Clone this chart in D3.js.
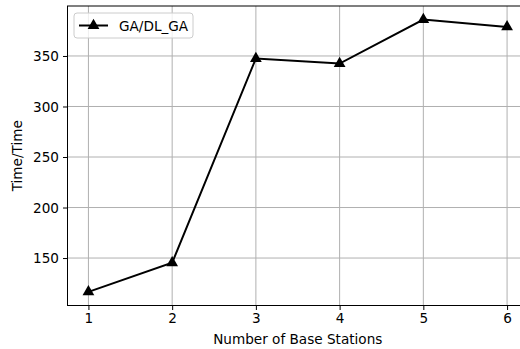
<!DOCTYPE html>
<html>
<head>
<meta charset="utf-8">
<script src="https://cdn.jsdelivr.net/npm/d3@7"></script>
<style>
  body { margin: 0; background: #fff; }
  svg { display: block; overflow: hidden; }
  text { font-family: "DejaVu Sans", sans-serif; fill: #000; }
</style>
</head>
<body>
<script>
// data
const stations = [1, 2, 3, 4, 5, 6];
const ratio = [116.5, 145.3, 347.5, 342.5, 386, 378.8];
const yTicks = [150, 200, 250, 300, 350];
const seriesName = 'GA/DL_GA';

const W = 520, H = 349;
const margin = {top: 6, left: 67.5, bottom: 43.5};
const plotRight = 528; // axes run past the cropped right edge
const fs = 13.6;

const svg = d3.select('body').append('svg')
    .attr('width', W)
    .attr('height', H);

// matplotlib style 5% padding
const xPad = (d3.max(stations) - d3.min(stations)) * 0.05;
const yPad = (d3.max(ratio) - d3.min(ratio)) * 0.05;

const x = d3.scaleLinear()
    .domain([d3.min(stations) - xPad, d3.max(stations) + xPad])
    .range([margin.left, plotRight]);

const y = d3.scaleLinear()
    .domain([d3.min(ratio) - yPad, d3.max(ratio) + yPad])
    .range([H - margin.bottom, margin.top]);

const bottom = H - margin.bottom;

// grid
svg.append('g')
    .selectAll('line.vg')
    .data(stations)
    .join('line')
    .attr('x1', d => x(d)).attr('x2', d => x(d))
    .attr('y1', margin.top).attr('y2', bottom)
    .attr('stroke', '#b0b0b0').attr('stroke-width', 1);

svg.append('g')
    .selectAll('line.hg')
    .data(yTicks)
    .join('line')
    .attr('x1', margin.left).attr('x2', plotRight)
    .attr('y1', d => y(d)).attr('y2', d => y(d))
    .attr('stroke', '#b0b0b0').attr('stroke-width', 1);

// axes
const xAxis = d3.axisBottom(x).tickValues(stations).tickFormat(d3.format('d'))
    .tickSize(4.5).tickPadding(3);
const gx = svg.append('g')
    .attr('transform', `translate(0,${bottom})`)
    .call(xAxis);

const yAxis = d3.axisLeft(y).tickValues(yTicks).tickSize(4.5).tickPadding(4);
const gy = svg.append('g')
    .attr('transform', `translate(${margin.left},0)`)
    .call(yAxis);

[gx, gy].forEach(g => {
    g.attr('font-size', fs).attr('font-family', '"DejaVu Sans", sans-serif');
    g.selectAll('.tick line').attr('stroke', '#000').attr('stroke-width', 1);
    g.select('.domain').remove();
});
gy.selectAll('text').attr('dy', '0.35em');

// spines
svg.append('rect')
    .attr('x', margin.left).attr('y', margin.top)
    .attr('width', plotRight - margin.left)
    .attr('height', bottom - margin.top)
    .attr('fill', 'none').attr('stroke', '#000').attr('stroke-width', 1);

// line
const line = d3.line()
    .x((d, i) => x(stations[i]))
    .y(d => y(d));

svg.append('path')
    .datum(ratio)
    .attr('d', line)
    .attr('fill', 'none')
    .attr('stroke', '#000')
    .attr('stroke-width', 2);

const tri = d3.symbol().type(d3.symbolTriangle).size(60);

svg.append('g')
    .selectAll('path')
    .data(ratio)
    .join('path')
    .attr('d', tri)
    .attr('transform', (d, i) => `translate(${x(stations[i])},${y(d)})`)
    .attr('fill', '#000');

// legend
const lg = svg.append('g').attr('transform', 'translate(74,13)');
lg.append('rect')
    .attr('width', 119).attr('height', 25).attr('rx', 3)
    .attr('fill', '#fff').attr('fill-opacity', 0.8)
    .attr('stroke', '#ccc').attr('stroke-width', 1);
lg.append('line')
    .attr('x1', 5).attr('x2', 34).attr('y1', 12.5).attr('y2', 12.5)
    .attr('stroke', '#000').attr('stroke-width', 2);
lg.append('path')
    .attr('d', tri)
    .attr('transform', 'translate(19.5,12.5)')
    .attr('fill', '#000');
lg.append('text')
    .attr('x', 45).attr('y', 17.5)
    .attr('font-size', fs)
    .text(seriesName);

// labels
svg.append('text')
    .attr('x', (margin.left + plotRight) / 2)
    .attr('y', 344)
    .attr('text-anchor', 'middle')
    .attr('font-size', fs)
    .text('Number of Base Stations');

svg.append('text')
    .attr('transform', `translate(22,${(margin.top + bottom) / 2}) rotate(-90)`)
    .attr('text-anchor', 'middle')
    .attr('font-size', fs)
    .text('Time/Time');
</script>
</body>
</html>
